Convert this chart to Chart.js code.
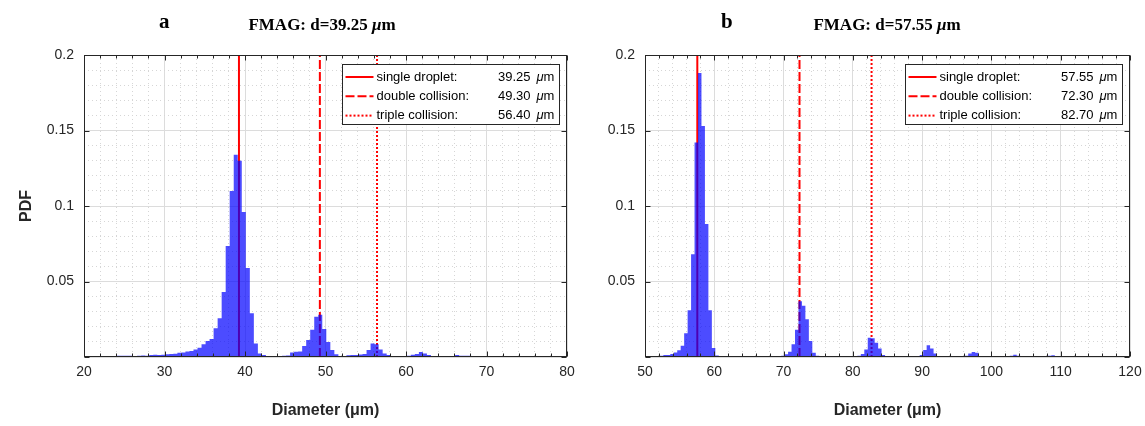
<!DOCTYPE html>
<html>
<head>
<meta charset="utf-8">
<script src="https://cdn.jsdelivr.net/npm/chart.js@4.4.0/dist/chart.umd.min.js"></script>
<style>
body { margin: 0; background: #fff; }
#wrap { position: relative; width: 1145px; height: 426px; overflow: hidden; }
.panel { position: absolute; top: 0; }
.title { position: absolute; font-family: "Liberation Serif", "Times New Roman", serif; font-weight: bold; color: #000; white-space: nowrap; line-height: 1; }
</style>
</head>
<body>
<div id="wrap">
  <canvas id="chartA" class="panel" style="left:0" width="580" height="426"></canvas>
  <canvas id="chartB" class="panel" style="left:580px" width="565" height="426"></canvas>
  <div class="title" style="left:159px;top:11px;font-size:21px">a</div>
  <div class="title" id="titleA" style="left:322px;top:16px;font-size:17px;transform:translateX(-50%)"></div>
  <div class="title" style="left:721px;top:11px;font-size:21px">b</div>
  <div class="title" id="titleB" style="left:887px;top:16px;font-size:17px;transform:translateX(-50%)"></div>
</div>
<script>
// histogram bins (0.5 um wide), first bin edge per panel
const binWidth = 0.5;
const leftBinStart = 20.1;
const rightBinStart = 50.15;

const leftPdf = [
  0.0003, 0.0002, 0.0004, 0.0003, 0.0006, 0.0007, 0.0004, 0.0006, 0.0009, 0.0008,
  0.0009, 0.0008, 0.0007, 0.0009, 0.0010, 0.0009, 0.0013, 0.0015, 0.0014, 0.0015,
  0.0019, 0.0020, 0.0022, 0.0028, 0.0029, 0.0037, 0.0039, 0.0050, 0.0062, 0.0084,
  0.0106, 0.0120, 0.0190, 0.0256, 0.0430, 0.0735, 0.1100, 0.1340, 0.1300, 0.0960,
  0.0590, 0.0290, 0.0090, 0.0024, 0.0013, 0.0005, 0.0004, 0.0005, 0.0006, 0.0009,
  0.0010, 0.0030, 0.0034, 0.0036, 0.0073, 0.0113, 0.0180, 0.0267, 0.0280, 0.0185,
  0.0100, 0.0046, 0.0018, 0.0007, 0.0006, 0.0012, 0.0013, 0.0014, 0.0016, 0.0020,
  0.0046, 0.0090, 0.0084, 0.0050, 0.0024, 0.0013, 0.0005, 0.0004, 0.0003, 0.0004,
  0.0008, 0.0015, 0.0020, 0.0033, 0.0024, 0.0013, 0.0004, 0.0003, 0.0002, 0.0003,
  0.0002, 0.0004, 0.0013, 0.0009, 0.0009, 0.0008, 0.0003, 0.0002, 0.0003, 0.0002,
  0.0002, 0.0003, 0.0002, 0.0002, 0.0003, 0.0002, 0.0002, 0.0002, 0.0003, 0.0002,
  0.0002, 0.0002, 0.0002, 0.0003, 0.0002, 0.0002, 0.0002, 0.0002, 0.0002, 0.0002
];

const rightPdf = [
  0.0003, 0.0003, 0.0004, 0.0005, 0.0008, 0.0013, 0.0013, 0.0020, 0.0030, 0.0045,
  0.0075, 0.0157, 0.0310, 0.0680, 0.1420, 0.1880, 0.1530, 0.0880, 0.0310, 0.0060,
  0.0010, 0.0004, 0.0003, 0.0002, 0.0003, 0.0002, 0.0003, 0.0002, 0.0002, 0.0003,
  0.0002, 0.0003, 0.0002, 0.0002, 0.0003, 0.0002, 0.0003, 0.0004, 0.0005, 0.0008,
  0.0018, 0.0035, 0.0084, 0.0180, 0.0370, 0.0340, 0.0250, 0.0106, 0.0028, 0.0008,
  0.0004, 0.0003, 0.0002, 0.0003, 0.0002, 0.0002, 0.0003, 0.0002, 0.0003, 0.0004,
  0.0005, 0.0008, 0.0020, 0.0050, 0.0128, 0.0125, 0.0095, 0.0057, 0.0013, 0.0004,
  0.0003, 0.0002, 0.0003, 0.0002, 0.0002, 0.0003, 0.0002, 0.0003, 0.0004, 0.0013,
  0.0046, 0.0077, 0.0057, 0.0024, 0.0005, 0.0003, 0.0002, 0.0003, 0.0002, 0.0003,
  0.0002, 0.0003, 0.0008, 0.0024, 0.0033, 0.0028, 0.0007, 0.0003, 0.0002, 0.0003,
  0.0002, 0.0003, 0.0002, 0.0003, 0.0002, 0.0009, 0.0015, 0.0009, 0.0003, 0.0002,
  0.0003, 0.0002, 0.0003, 0.0002, 0.0003, 0.0002, 0.0009, 0.0011, 0.0006, 0.0003,
  0.0002, 0.0003, 0.0002, 0.0002, 0.0003, 0.0002, 0.0002, 0.0003, 0.0002, 0.0002,
  0.0002, 0.0002, 0.0002, 0.0002, 0.0006, 0.0006, 0.0002, 0.0002, 0.0002, 0.0002
];

// droplet diameters (um) for the vertical lines
const leftDiameters = [39.25, 49.30, 56.40];
const rightDiameters = [57.55, 72.30, 82.70];
const lineLabels = ['single droplet:', 'double collision:', 'triple collision:'];

const leftRange = [20, 80];
const rightRange = [50, 120];
const yRange = [0, 0.2];

document.getElementById('titleA').innerHTML = 'FMAG: d=' + leftDiameters[0].toFixed(2) + ' <i>&mu;</i>m';
document.getElementById('titleB').innerHTML = 'FMAG: d=' + rightDiameters[0].toFixed(2) + ' <i>&mu;</i>m';

const sans = '"Liberation Sans", Arial, sans-serif';
const axisColor = '#262626';
const dashes = [[], [9, 3], [2, 2]];

// frame, inward tick marks and the matlab style legend box
const framePlugin = {
  id: 'frame',
  afterDatasetsDraw(chart) {
    const {ctx, chartArea: a, scales: {x, y}} = chart;
    const L = Math.round(a.left) + 0.5, R = Math.round(a.right) - 0.5;
    const T = Math.round(a.top) + 0.5, B = Math.round(a.bottom) - 0.5;
    ctx.save();
    ctx.strokeStyle = axisColor;
    ctx.lineWidth = 1;
    ctx.beginPath();
    x.ticks.forEach(t => {
      const px = Math.round(x.getPixelForValue(t.value)) + 0.5;
      const len = t.value % 10 === 0 ? 5 : 3;
      ctx.moveTo(px, B); ctx.lineTo(px, B - len);
      ctx.moveTo(px, T); ctx.lineTo(px, T + len);
    });
    y.ticks.forEach(t => {
      const k = Math.round(t.value * 100);
      if (k % 5 !== 0) return;
      const py = Math.round(y.getPixelForValue(t.value)) + 0.5;
      ctx.moveTo(L, py); ctx.lineTo(L + 5, py);
      ctx.moveTo(R, py); ctx.lineTo(R - 5, py);
    });
    ctx.stroke();
    ctx.strokeRect(L, T, R - L, B - T);
    ctx.restore();
  },
  afterDraw(chart, args, opts) {
    const {ctx, chartArea: a} = chart;
    const w = 217, h = 60;
    const lx = Math.round(a.right - 8 - w) + 0.5;
    const ly = Math.round(a.top + 9) + 0.5;
    ctx.save();
    ctx.fillStyle = '#fff';
    ctx.fillRect(lx, ly, w, h);
    ctx.strokeStyle = axisColor;
    ctx.lineWidth = 1;
    ctx.strokeRect(lx, ly, w, h);
    opts.values.forEach((v, i) => {
      const ry = ly + 12.5 + i * 19.3;
      ctx.strokeStyle = '#ff0000';
      ctx.lineWidth = 2;
      ctx.setLineDash(dashes[i]);
      ctx.beginPath();
      ctx.moveTo(lx + 3, ry); ctx.lineTo(lx + 31, ry);
      ctx.stroke();
      ctx.setLineDash([]);
      ctx.fillStyle = '#000';
      ctx.textBaseline = 'middle';
      ctx.font = '13px ' + sans;
      ctx.textAlign = 'left';
      ctx.fillText(lineLabels[i], lx + 34, ry);
      ctx.textAlign = 'right';
      ctx.fillText(v.toFixed(2), lx + 188, ry);
      ctx.textAlign = 'left';
      ctx.font = 'italic 13px ' + sans;
      ctx.fillText('\u03bc', lx + 194, ry);
      const mw = ctx.measureText('\u03bc').width;
      ctx.font = '13px ' + sans;
      ctx.fillText('m', lx + 194 + mw, ry);
    });
    ctx.restore();
  }
};

const majorGrid = '#dcdcdc';
const minorGrid = '#d6d6d6';

function makeChart(id, pdf, binStart, diameters, range, yAxisWidth, rightPad, showYTitle) {
  const hist = pdf.map((v, i) => ({x: binStart + (i + 0.5) * binWidth, y: v}));
  const lines = diameters.map((d, i) => ({
    type: 'line',
    label: lineLabels[i],
    data: [{x: d, y: yRange[0]}, {x: d, y: yRange[1]}],
    borderColor: '#ff0000',
    borderWidth: 2,
    borderDash: dashes[i],
    pointRadius: 0,
    fill: false,
    order: 1
  }));
  return new Chart(document.getElementById(id), {
    type: 'line',
    data: {
      datasets: [{
        label: 'PDF',
        data: hist,
        stepped: 'middle',
        fill: 'origin',
        backgroundColor: 'rgba(0, 0, 255, 0.7)',
        borderColor: 'rgba(0, 0, 0, 0)',
        borderWidth: 0,
        pointRadius: 0,
        order: 0
      }, ...lines]
    },
    options: {
      responsive: false,
      animation: false,
      layout: {padding: {top: 55, right: rightPad, bottom: 0, left: 0}},
      plugins: {
        legend: {display: false},
        tooltip: {enabled: false},
        frame: {values: diameters}
      },
      scales: {
        x: {
          type: 'linear',
          min: range[0],
          max: range[1],
          afterFit: s => { s.height = 69; s.paddingLeft = 0; s.paddingRight = 0; },
          ticks: {
            stepSize: 2,
            autoSkip: false,
            maxRotation: 0,
            padding: 7,
            color: axisColor,
            font: {family: sans, size: 14},
            callback: v => (v % 10 === 0 ? String(v) : '')
          },
          grid: {
            drawTicks: false,
            color: c => (c.tick && c.tick.value % 10 === 0 ? majorGrid : minorGrid)
          },
          border: {display: false, dash: c => (c.tick && c.tick.value % 10 === 0 ? [] : [1, 3])},
          title: {
            display: true,
            text: 'Diameter (\u03bcm)',
            color: axisColor,
            font: {family: sans, size: 16, weight: 'bold'},
            padding: {top: 0, bottom: 6}
          }
        },
        y: {
          min: yRange[0],
          max: yRange[1],
          afterFit: s => { s.width = yAxisWidth; s.paddingTop = 0; s.paddingBottom = 0; },
          ticks: {
            stepSize: 0.01,
            autoSkip: false,
            padding: 10,
            color: axisColor,
            font: {family: sans, size: 14},
            callback: v => {
              const k = Math.round(v * 100);
              return k > 0 && k % 5 === 0 ? String(k / 100) : '';
            }
          },
          grid: {
            drawTicks: false,
            color: c => (c.tick && Math.round(c.tick.value * 100) % 5 === 0 ? majorGrid : minorGrid)
          },
          border: {display: false, dash: c => (c.tick && Math.round(c.tick.value * 100) % 5 === 0 ? [] : [1, 3])},
          title: {
            display: showYTitle,
            text: 'PDF',
            color: axisColor,
            font: {family: sans, size: 16, weight: 'bold'},
            padding: {top: 17, bottom: 0}
          }
        }
      }
    },
    plugins: [framePlugin]
  });
}

makeChart('chartA', leftPdf, leftBinStart, leftDiameters, leftRange, 84, 13, true);
makeChart('chartB', rightPdf, rightBinStart, rightDiameters, rightRange, 65, 15, false);
</script>
</body>
</html>
